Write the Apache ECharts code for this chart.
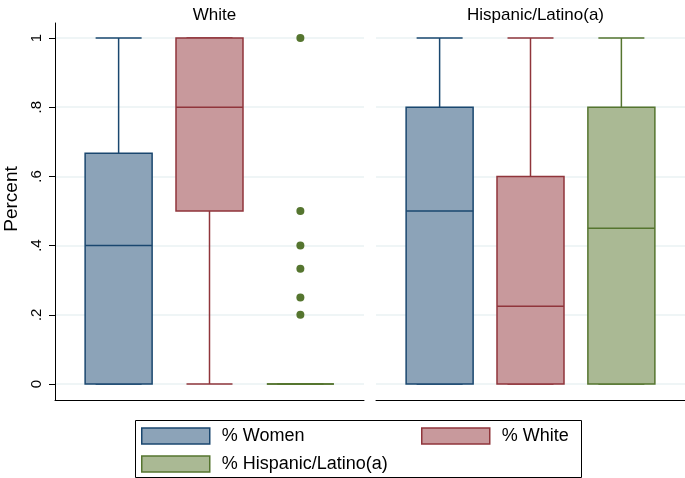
<!DOCTYPE html>
<html>
<head>
<meta charset="utf-8">
<script src="https://cdn.jsdelivr.net/npm/echarts@6/dist/echarts.min.js"></script>
<style>html,body{margin:0;padding:0;background:#fff;overflow:hidden}#c{width:685px;height:478px;display:block}</style>
</head>
<body>
<div id="c"></div>
<script>
// ---- data ----
const panels = ['White', 'Hispanic/Latino(a)'];
const seriesNames = ['% Women', '% White', '% Hispanic/Latino(a)'];
const yTitle = 'Percent';
// each box: [min, Q1, median, Q3, max]
const whiteWomen    = [0, 0, 0.4, 0.667, 1];
const whiteWhite    = [0, 0.5, 0.8, 1, 1];
const whiteHispanic = [0, 0, 0, 0, 0];
const whiteHispanicOutliers = [1, 0.5, 0.4, 0.333, 0.25, 0.2];
const hispWomen     = [0, 0, 0.5, 0.8, 1];
const hispWhite     = [0, 0, 0.225, 0.6, 1];
const hispHispanic  = [0, 0, 0.45, 0.8, 1];
const yTicks = [0, 0.2, 0.4, 0.6, 0.8, 1];
const yTickLabels = ['0', '.2', '.4', '.6', '.8', '1'];
const boxPos = [1, 2, 3];

// ---- styles ----
const strokes = ['#1a476f', '#90353b', '#55752f'];
const fills = ['#8ca3b8', '#c8999c', '#aab994'];
const FONT = 'Liberation Sans, Arial, sans-serif';

const chart = echarts.init(document.getElementById('c'), null, {renderer: 'canvas'});

function boxRender(idx) {
  return function (params, api) {
    const x = api.value(0);
    const mn = api.value(1), q1 = api.value(2), md = api.value(3), q3 = api.value(4), mx = api.value(5);
    const pMin = api.coord([x, mn]), pQ1 = api.coord([x, q1]), pMd = api.coord([x, md]),
          pQ3 = api.coord([x, q3]), pMax = api.coord([x, mx]);
    const half = 33.5, capHalf = 23;
    const cx = pMd[0];
    const lw = 1.5;
    const children = [];
    const ls = {stroke: strokes[idx], lineWidth: lw};
    if (mx > q3) {
      children.push({type: 'line', shape: {x1: cx, y1: pQ3[1], x2: cx, y2: pMax[1]}, style: ls});
    }
    children.push({type: 'line', shape: {x1: cx - capHalf, y1: pMax[1], x2: cx + capHalf, y2: pMax[1]}, style: ls});
    if (mn < q1) {
      children.push({type: 'line', shape: {x1: cx, y1: pQ1[1], x2: cx, y2: pMin[1]}, style: ls});
    }
    children.push({type: 'line', shape: {x1: cx - capHalf, y1: pMin[1], x2: cx + capHalf, y2: pMin[1]}, style: ls});
    children.push({type: 'rect', shape: {x: cx - half, y: pQ3[1], width: 2 * half, height: pQ1[1] - pQ3[1]},
      style: {fill: fills[idx], stroke: strokes[idx], lineWidth: lw}});
    children.push({type: 'line', shape: {x1: cx - half, y1: pMd[1], x2: cx + half, y2: pMd[1]}, style: ls});
    return {type: 'group', children: children};
  };
}

function boxSeries(name, idx, gridAxis, stats) {
  return {
    type: 'custom', name: name,
    xAxisIndex: gridAxis, yAxisIndex: gridAxis,
    itemStyle: {color: fills[idx], borderColor: strokes[idx], borderWidth: 1.5},
    encode: {x: 0, y: [1, 2, 3, 4, 5]},
    data: [[boxPos[idx]].concat(stats)],
    renderItem: boxRender(idx),
    silent: true
  };
}

const frameX = (grid) => ({
  gridIndex: grid, type: 'value', min: 0, max: 1,
  axisLine: {show: true, onZero: false, lineStyle: {color: '#000', width: 1}},
  axisTick: {show: false}, axisLabel: {show: false}, splitLine: {show: false}
});
const frameY = (grid, showLine) => ({
  gridIndex: grid, type: 'value', min: 0, max: 1,
  axisLine: {show: showLine, onZero: false, lineStyle: {color: '#000', width: 1}},
  axisTick: {show: false}, axisLabel: {show: false}, splitLine: {show: false}
});
const dataX = (grid) => ({
  gridIndex: grid, type: 'value', min: 0.3, max: 3.7,
  axisLine: {show: false}, axisTick: {show: false}, axisLabel: {show: false}, splitLine: {show: false}
});
const dataY = (grid, showLabels) => ({
  gridIndex: grid, type: 'value', min: 0, max: 1, interval: 0.2,
  axisLine: {show: false},
  axisTick: {show: showLabels, length: 6, lineStyle: {color: '#000', width: 1}},
  axisLabel: {
    show: showLabels, rotate: 90, margin: 11, color: '#000', fontSize: 15, fontFamily: FONT,
    formatter: function (v) {
      for (let i = 0; i < yTicks.length; i++) if (Math.abs(yTicks[i] - v) < 1e-6) return yTickLabels[i];
      return '';
    }
  },
  splitLine: {show: true, lineStyle: {color: '#eaf2f3', width: 1.5}}
});

const option = {
  backgroundColor: '#fff',
  animation: false,
  title: [
    {text: panels[0], left: 209.5, top: 2, textAlign: 'center',
     textStyle: {fontSize: 17, fontWeight: 'normal', color: '#000', fontFamily: FONT}},
    {text: panels[1], left: 530.5, top: 2, textAlign: 'center',
     textStyle: {fontSize: 17, fontWeight: 'normal', color: '#000', fontFamily: FONT}}
  ],
  grid: [
    {left: 55, top: 23, width: 309, height: 377},
    {left: 376, top: 23, width: 309, height: 377},
    {left: 55, top: 38, width: 309, height: 346},
    {left: 376, top: 38, width: 309, height: 346}
  ],
  xAxis: [frameX(0), frameX(1), dataX(2), dataX(3)],
  yAxis: [frameY(0, true), frameY(1, false), dataY(2, true), dataY(3, false)],
  legend: [
    {left: 141, top: 427, orient: 'vertical', itemWidth: 68, itemHeight: 16, itemGap: 10, padding: 0,
     icon: 'rect', selectedMode: false,
     textStyle: {color: '#000', fontSize: 18, lineHeight: 16, fontFamily: FONT, padding: [0, 0, 0, 7]},
     data: [
       {name: seriesNames[0], itemStyle: {color: fills[0], borderColor: strokes[0], borderWidth: 1.5}},
       {name: seriesNames[2], itemStyle: {color: fills[2], borderColor: strokes[2], borderWidth: 1.5}}
     ]},
    {left: 421, top: 427, orient: 'vertical', itemWidth: 68, itemHeight: 16, itemGap: 10, padding: 0,
     icon: 'rect', selectedMode: false,
     textStyle: {color: '#000', fontSize: 18, lineHeight: 16, fontFamily: FONT, padding: [0, 0, 0, 7]},
     data: [
       {name: seriesNames[1], itemStyle: {color: fills[1], borderColor: strokes[1], borderWidth: 1.5}}
     ]}
  ],
  graphic: [
    {type: 'rect', left: 133, top: 418, shape: {width: 446, height: 57},
     style: {fill: null, stroke: '#000', lineWidth: 1}, silent: true},
    {type: 'text', x: 12, y: 199, rotation: Math.PI / 2, silent: true,
     style: {text: yTitle, fill: '#000', fontSize: 19, fontFamily: FONT, align: 'center', verticalAlign: 'middle'}}
  ],
  series: [
    boxSeries(seriesNames[0], 0, 2, whiteWomen),
    boxSeries(seriesNames[1], 1, 2, whiteWhite),
    boxSeries(seriesNames[2], 2, 2, whiteHispanic),
    {
      type: 'scatter', name: 'outliers', xAxisIndex: 2, yAxisIndex: 2,
      symbol: 'circle', symbolSize: 8, itemStyle: {color: strokes[2], opacity: 1}, silent: true,
      data: whiteHispanicOutliers.map(v => [boxPos[2], v])
    },
    boxSeries(seriesNames[0], 0, 3, hispWomen),
    boxSeries(seriesNames[1], 1, 3, hispWhite),
    boxSeries(seriesNames[2], 2, 3, hispHispanic)
  ]
};
chart.setOption(option);
</script>
</body>
</html>
